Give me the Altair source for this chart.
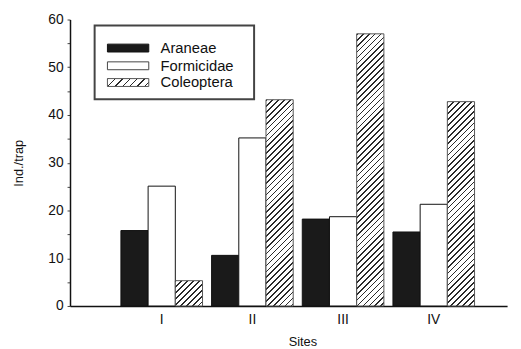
import altair as alt
import pandas as pd

sites = ["I", "II", "III", "IV"]
series = ["Araneae", "Formicidae", "Coleoptera"]
araneae = [15.8, 10.6, 18.2, 15.5]
formicidae = [25.1, 35.2, 18.7, 21.3]
coleoptera = [5.3, 43.2, 57.0, 42.8]

W, H = 444, 291
YMAX = 60
FONT = "Liberation Sans"

rows = []
for i, s in enumerate(sites):
    for name, vals in zip(series, [araneae, formicidae, coleoptera]):
        rows.append({"site": s, "series": name, "value": vals[i]})
df = pd.DataFrame(rows)


def hatch(w, h, period=6.0, lw=1.7, dark="#2a2a2a", light="white"):
    k = (w + h) / (w * w + h * h)
    total = w + h
    stops = []
    c = 0.0
    while c < total:
        a = c / total
        b = min(c + lw, total) / total
        e = min(c + period, total) / total
        stops += [
            {"offset": a, "color": dark},
            {"offset": b, "color": dark},
            {"offset": b, "color": light},
            {"offset": e, "color": light},
        ]
        c += period
    return {"gradient": "linear", "x1": 0, "y1": 0, "x2": k * w, "y2": k * h, "stops": stops}


step = W / (4 - 0.1 + 2 * 0.46)
bar_w = step * 0.9 / 3
conds = []
for s, v in zip(sites, coleoptera):
    conds.append({"test": f"datum.site === '{s}' && datum.series === 'Coleoptera'",
                  "value": hatch(bar_w, v * H / YMAX)})
conds.append({"test": "datum.series === 'Araneae'", "value": "#1a1a1a"})

bars = alt.Chart(df).mark_bar(strokeWidth=1).encode(
    x=alt.X("site:N", sort=sites,
            scale=alt.Scale(domain=sites, paddingInner=0.1, paddingOuter=0.46, align=0.61),
            axis=alt.Axis(title="Sites", labelAngle=0, ticks=False, labelPadding=7,
                          titlePadding=9, titleX=236)),
    xOffset=alt.XOffset("series:N", sort=series,
                        scale=alt.Scale(domain=series, paddingInner=0, paddingOuter=0)),
    y=alt.Y("value:Q", scale=alt.Scale(domain=[0, YMAX], nice=False),
            axis=alt.Axis(title="Ind./trap", values=list(range(0, 61, 5)),
                          labelExpr="datum.value % 10 === 0 ? datum.label : ''",
                          tickSize=3, grid=False, labelPadding=4, titlePadding=23)),
    fill={"condition": conds, "value": "white"},
    stroke=alt.condition("datum.series === 'Coleoptera'", alt.value("#555555"), alt.value("#111111")),
)

one = pd.DataFrame({"k": [0]})
layers = [bars]
layers.append(alt.Chart(one).mark_rect(fill="white", stroke="#444444", strokeWidth=2).encode(
    x=alt.value(25), x2=alt.value(187), y=alt.value(6), y2=alt.value(81)))
legend_fill = ["#1a1a1a", "white", hatch(42, 8, period=7.5, lw=1.4)]
legend_stroke = ["#111111", "#444444", "#555555"]
centers = [29, 47, 64]
for name, f, st, cy in zip(series, legend_fill, legend_stroke, centers):
    layers.append(alt.Chart(one).mark_rect(fill=f, stroke=st, strokeWidth=1).encode(
        x=alt.value(38), x2=alt.value(80), y=alt.value(cy - 4), y2=alt.value(cy + 4)))
    layers.append(alt.Chart(one).mark_text(text=name, align="left", baseline="middle",
                                           font=FONT, fontSize=15, color="#111111").encode(
        x=alt.value(92), y=alt.value(cy)))

chart = alt.layer(*layers).properties(
    width=W, height=H,
    autosize=alt.AutoSizeParams(type="none"),
    padding={"left": 63, "top": 9, "right": 6, "bottom": 41},
).configure_view(stroke=None).configure_axis(
    domainColor="#111111", domainWidth=1.5, tickColor="#444444",
    labelFont=FONT, labelFontSize=14, labelColor="#111111",
    titleFont=FONT, titleFontSize=13, titleFontWeight="normal", titleColor="#111111",
)

chart.save("out.html", embed_options={"renderer": "svg", "actions": False})
